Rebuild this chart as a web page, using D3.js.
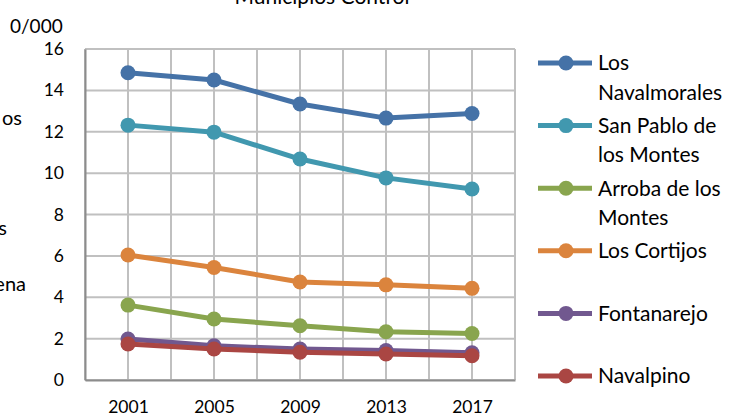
<!DOCTYPE html>
<html>
<head>
<meta charset="utf-8">
<script src="https://cdn.jsdelivr.net/npm/d3@7"></script>
<style>
  body { margin: 0; background: #fff; }
  svg { display: block; font-family: Lato, "Open Sans", sans-serif; }
</style>
</head>
<body>
<div id="chart"></div>
<script>
// data
const years = ["2001", "2005", "2009", "2013", "2017"];
const yTicks = [0, 2, 4, 6, 8, 10, 12, 14, 16];
const names = ["Los Navalmorales", "San Pablo de los Montes", "Arroba de los Montes", "Los Cortijos", "Fontanarejo", "Navalpino"];
const legendLines = [["Los", "Navalmorales"], ["San Pablo de", "los Montes"], ["Arroba de los", "Montes"], ["Los Cortijos"], ["Fontanarejo"], ["Navalpino"]];
const colors = ["#4572a7", "#4198af", "#89a54e", "#db843d", "#71588f", "#aa4643"];
const navalmorales = [14.85, 14.5, 13.34, 12.66, 12.88];
const sanPablo = [12.32, 11.98, 10.68, 9.77, 9.23];
const arroba = [3.62, 2.95, 2.62, 2.33, 2.25];
const cortijos = [6.04, 5.44, 4.74, 4.6, 4.43];
const fontanarejo = [1.98, 1.65, 1.5, 1.42, 1.32];
const navalpino = [1.74, 1.5, 1.34, 1.26, 1.17];
const series = [navalmorales, sanPablo, arroba, cortijos, fontanarejo, navalpino];

const width = 733, height = 416;
const margin = {left: 85, right: 218, top: 49, bottom: 36};

const svg = d3.select("#chart").append("svg")
  .attr("width", width)
  .attr("height", height);

const x = d3.scalePoint().domain(years)
  .range([margin.left, width - margin.right]).padding(0.5);
const y = d3.scaleLinear().domain([0, 16])
  .range([height - margin.bottom, margin.top]);

const step = x.step() / 2;
const gridX = d3.range(0, 11).map(i => margin.left + i * step);

// grid
svg.append("g").selectAll("line").data(gridX).join("line")
  .attr("x1", d => d).attr("x2", d => d)
  .attr("y1", margin.top).attr("y2", height - margin.bottom)
  .attr("stroke", "#c0c0c0").attr("stroke-width", 2);
svg.append("g").selectAll("line").data(yTicks).join("line")
  .attr("x1", margin.left).attr("x2", width - margin.right)
  .attr("y1", d => y(d)).attr("y2", d => y(d))
  .attr("stroke", "#c0c0c0").attr("stroke-width", 2);

// axes
const yAxis = svg.append("g")
  .attr("transform", `translate(${margin.left},0)`)
  .call(d3.axisLeft(y).tickValues(yTicks).tickSize(0).tickPadding(21));
yAxis.select(".domain").attr("stroke", "#8c8c8c").attr("stroke-width", 2);
yAxis.selectAll("text").attr("font-size", 17.5).attr("fill", "#000")
  .attr("font-family", "Lato, sans-serif");

const xAxis = svg.append("g")
  .attr("transform", `translate(0,${height - margin.bottom})`)
  .call(d3.axisBottom(x).tickSize(0).tickPadding(21));
xAxis.select(".domain").attr("stroke", "#8c8c8c").attr("stroke-width", 2);
xAxis.selectAll("text").attr("font-size", 17.5).attr("fill", "#000")
  .attr("font-family", "Lato, sans-serif");

// lines
const line = d3.line().x((d, i) => x(years[i])).y(d => y(d));
series.forEach((s, k) => {
  const g = svg.append("g");
  g.append("path").datum(s)
    .attr("d", line)
    .attr("fill", "none")
    .attr("stroke", colors[k])
    .attr("stroke-width", 5)
    .attr("stroke-linejoin", "round");
  g.selectAll("circle").data(s).join("circle")
    .attr("cx", (d, i) => x(years[i]))
    .attr("cy", d => y(d))
    .attr("r", 7.5)
    .attr("fill", colors[k]);
});

// unit label and clipped title
svg.append("text").attr("x", 10).attr("y", 33)
  .attr("font-size", 19).text("0/000");
svg.append("text").attr("x", 322).attr("y", 4)
  .attr("text-anchor", "middle").attr("font-size", 21)
  .text("Municipios Control");

// fragments of text cut off at the left edge
const fragments = [["os", 125, 22], ["s", 235, 7], ["ena", 291, 26]];
svg.append("g").selectAll("text").data(fragments).join("text")
  .attr("x", d => d[2])
  .attr("y", d => d[1])
  .attr("text-anchor", "end")
  .attr("font-size", 20)
  .text(d => d[0]);

// legend
const legendY = d3.scaleLinear().domain([0, 5]).range([63, 376]);
const leg = svg.append("g").selectAll("g").data(names).join("g")
  .attr("transform", (d, i) => `translate(0,${legendY(i)})`);
leg.append("line")
  .attr("x1", 538).attr("x2", 592)
  .attr("stroke", (d, i) => colors[i])
  .attr("stroke-width", 5);
leg.append("circle")
  .attr("cx", 566).attr("r", 7.5)
  .attr("fill", (d, i) => colors[i]);
leg.append("text")
  .attr("x", 598).attr("font-size", 21)
  .selectAll("tspan").data((d, i) => legendLines[i]).join("tspan")
  .attr("x", 598)
  .attr("dy", (d, j) => j === 0 ? "0.35em" : 29.5)
  .text(d => d);
</script>
</body>
</html>
